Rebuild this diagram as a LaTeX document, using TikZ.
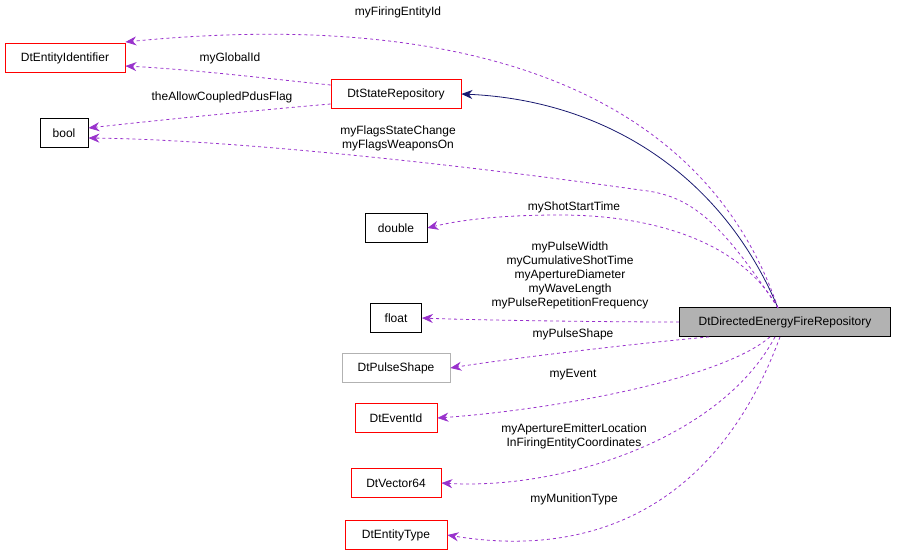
\documentclass[tikz,border=0pt]{standalone}
\usepackage{fontspec}
\setmainfont{Liberation Sans}
\usetikzlibrary{arrows.meta}
\definecolor{orch}{RGB}{153,50,204}
\definecolor{navy}{RGB}{25,25,112}
\begin{document}
\begin{tikzpicture}[x=1pt,y=-1pt,font=\fontsize{12}{14}\selectfont,
 box/.style={draw=red,fill=white,minimum height=29pt,inner xsep=2pt,line width=0.8pt},
 uses/.style={draw=orch,dashed,line width=0.8pt,-{Stealth[length=11pt,width=9pt]}},
 lbl/.style={align=center,inner sep=0pt}]
\useasboundingbox (0,0) rectangle (899,556);
\node[box,minimum width=120pt] (ei) at (65,58) {DtEntityIdentifier};
\node[box,minimum width=130pt] (sr) at (396,94) {DtStateRepository};
\node[box,draw=black,minimum width=48pt] (bo) at (64,133) {bool};
\node[box,draw=black,minimum width=62pt] (do) at (396,228) {double};
\node[box,draw=black,minimum width=51pt] (fl) at (396,318) {float};
\node[box,draw=black,fill=gray!60,minimum width=211pt] (m) at (785,322) {DtDirectedEnergyFireRepository};
\node[box,draw=gray!60,minimum width=108pt] (ps) at (396,368) {DtPulseShape};
\node[box,minimum width=82pt] (ev) at (396,418) {DtEventId};
\node[box,minimum width=90pt] (v6) at (396,483) {DtVector64};
\node[box,minimum width=102pt] (et) at (396,535) {DtEntityType};
\coordinate (mt) at (778,308);
\draw[draw=navy,line width=0.8pt,-{Stealth[length=11pt,width=9pt]}] (mt) .. controls (720,170) and (600,100) .. (sr.east);
\draw[uses] (mt) .. controls (700,80) and (450,10) .. (ei.east |- 0,42);
\draw[uses] (sr.west |- 0,85) .. controls (280,80) and (200,70) .. (ei.east |- 0,66);
\draw[uses] (sr.west |- 0,104) .. controls (260,110) and (160,120) .. (bo.east |- 0,128);
\draw[uses] (mt) .. controls (720,220) and (690,195) .. (640,190) .. controls (500,170) and (250,140) .. (bo.east |- 0,138);
\draw[uses] (mt) .. controls (740,240) and (650,215) .. (560,215) .. controls (500,215) and (460,220) .. (do.east);
\draw[uses] (m.west) .. controls (600,322) and (470,320) .. (fl.east);
\draw[uses] (m.south west) ++(30,0) .. controls (620,345) and (500,360) .. (ps.east);
\draw[uses] (m.south) ++(-15,0) .. controls (720,380) and (550,410) .. (ev.east);
\draw[uses] (m.south) ++(-10,0) .. controls (720,440) and (560,490) .. (v6.east);
\draw[uses] (m.south) ++(-5,0) .. controls (720,500) and (600,560) .. (et.east);
\node[lbl] at (398,12) {myFiringEntityId};
\node[lbl] at (230,58) {myGlobalId};
\node[lbl] at (222,97) {theAllowCoupledPdusFlag};
\node[lbl] at (398,138) {myFlagsStateChange\\myFlagsWeaponsOn};
\node[lbl] at (574,207) {myShotStartTime};
\node[lbl] at (570,275) {myPulseWidth\\myCumulativeShotTime\\myApertureDiameter\\myWaveLength\\myPulseRepetitionFrequency};
\node[lbl] at (573,334) {myPulseShape};
\node[lbl] at (573,375) {myEvent};
\node[lbl] at (574,436) {myApertureEmitterLocation\\InFiringEntityCoordinates};
\node[lbl] at (574,499) {myMunitionType};
\end{tikzpicture}
\end{document}
